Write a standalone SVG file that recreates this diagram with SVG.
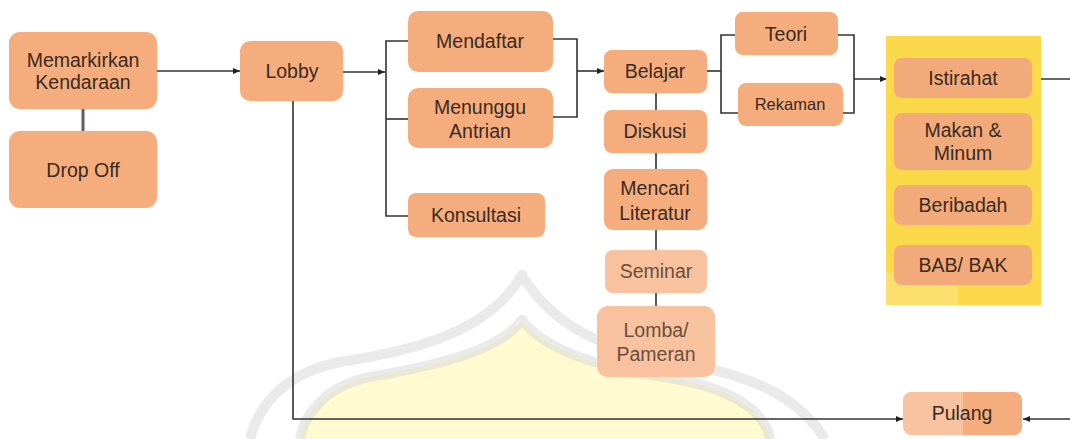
<svg xmlns="http://www.w3.org/2000/svg" width="1070" height="439" viewBox="0 0 1070 439">
<style>
  .n rect { fill: #F5AD7E; }
  .n text, .t { font-family: "Liberation Sans", Arial, sans-serif; font-size: 19.5px; fill: #3a2a20; text-anchor: middle; }
  .lt rect { fill: #F8C29E; }
  .lt text { fill: #6a4e40; }
  .c line, .c path { stroke: #333; stroke-width: 1.6; fill: none; }
  .wm { fill: none; stroke: #d6d6d6; stroke-width: 10; stroke-linejoin: round; opacity: 0.5; }
</style>
<defs>
  <marker id="ah" markerWidth="8" markerHeight="8" refX="7" refY="4" orient="auto" markerUnits="userSpaceOnUse">
    <path d="M0,1 L7,4 L0,7 Z" fill="#222"/>
  </marker>
  <linearGradient id="pg" x1="0" x2="1" y1="0" y2="0">
    <stop offset="0" stop-color="#F8C3A0"/>
    <stop offset="0.5" stop-color="#F8C3A0"/>
    <stop offset="0.5" stop-color="#F5AD7E"/>
    <stop offset="1" stop-color="#F5AD7E"/>
  </linearGradient>
</defs>
<rect width="1070" height="439" fill="#ffffff"/>

<g id="watermark">
  <path d="M300,439 C305,410 330,385 370,377 C440,365 500,350 522,320 C545,350 600,368 670,378 C730,388 765,410 770,439 Z" fill="#FFF9C4" opacity="0.8"/>
  <path class="wm" d="M250,439 C260,400 290,372 340,362 C420,350 490,330 522,275 C555,330 610,352 690,365 C760,378 800,400 825,439"/>
  <path class="wm" d="M300,439 C305,410 330,385 370,377 C440,365 500,350 522,320 C545,350 600,368 670,378 C730,388 765,410 770,439"/>
</g>

<g id="connectors" class="c">
  <line x1="83" y1="109" x2="83" y2="131" style="stroke:#5b5e6b;stroke-width:3"/>
  <line x1="157" y1="71" x2="240" y2="71" marker-end="url(#ah)"/>
  <line x1="333" y1="72" x2="385" y2="72" marker-end="url(#ah)"/>
  <path d="M408,41 H386 V216 H408"/>
  <line x1="386" y1="119" x2="408" y2="119"/>
  <path d="M553,39 H577 V117 H553"/>
  <line x1="577" y1="71" x2="604" y2="71" marker-end="url(#ah)"/>
  <line x1="656" y1="93" x2="656" y2="110"/>
  <line x1="656" y1="153" x2="656" y2="169"/>
  <line x1="656" y1="230" x2="656" y2="250"/>
  <line x1="656" y1="293" x2="656" y2="306"/>
  <line x1="707" y1="71" x2="721" y2="71"/>
  <path d="M735,35 H721 V113 H738"/>
  <path d="M838,35 H854 V113 H843"/>
  <line x1="854" y1="79" x2="887" y2="79" marker-end="url(#ah)"/>
  <line x1="1032" y1="79" x2="1070" y2="79"/>
  <path d="M293,101 V419 H903" marker-end="url(#ah)"/>
  <line x1="1070" y1="419" x2="1023" y2="419" marker-end="url(#ah)"/>
</g>

<g id="n-memarkirkan" class="n"><rect x="9" y="32" width="148" height="77" rx="11"/><text x="83" y="67">Memarkirkan</text><text x="83" y="89">Kendaraan</text></g>
<g id="n-dropoff" class="n"><rect x="9" y="131" width="148" height="77" rx="11"/><text x="83" y="177">Drop Off</text></g>
<g id="n-lobby" class="n"><rect x="240" y="41" width="103" height="60" rx="10"/><text x="292" y="78">Lobby</text></g>
<g id="n-mendaftar" class="n"><rect x="408" y="11" width="145" height="61" rx="10"/><text x="480" y="48">Mendaftar</text></g>
<g id="n-menunggu" class="n"><rect x="408" y="88" width="145" height="60" rx="10"/><text x="480" y="114">Menunggu</text><text x="480" y="138">Antrian</text></g>
<g id="n-konsultasi" class="n"><rect x="408" y="193" width="137" height="44" rx="8"/><text x="476" y="222">Konsultasi</text></g>
<g id="n-belajar" class="n"><rect x="604" y="50" width="103" height="43" rx="8"/><text x="655" y="78">Belajar</text></g>
<g id="n-diskusi" class="n"><rect x="604" y="110" width="103" height="43" rx="8"/><text x="655" y="138">Diskusi</text></g>
<g id="n-mencari" class="n"><rect x="604" y="169" width="103" height="61" rx="9"/><text x="655" y="195">Mencari</text><text x="655" y="220">Literatur</text></g>
<g id="n-seminar" class="n lt"><rect x="605" y="250" width="102" height="43" rx="8"/><text x="656" y="278">Seminar</text></g>
<g id="n-lomba" class="n lt"><rect x="597" y="306" width="118" height="71" rx="11"/><text x="656" y="337">Lomba/</text><text x="656" y="361">Pameran</text></g>
<g id="n-teori" class="n"><rect x="735" y="12" width="103" height="43" rx="8"/><text x="786" y="41">Teori</text></g>
<g id="n-rekaman" class="n"><rect x="738" y="83" width="105" height="43" rx="8"/><text x="790" y="110" style="font-size:16.5px">Rekaman</text></g>

<g id="n-group">
  <rect x="886" y="36" width="155" height="269" fill="#FCD94A"/>
  <rect x="886" y="272" width="72" height="33" fill="#ffffff" opacity="0.2"/>
</g>
<g id="n-istirahat" class="n"><rect x="894" y="58" width="138" height="40" rx="8" style="fill:#F3AA7B"/><text x="963" y="85">Istirahat</text></g>
<g id="n-makan" class="n"><rect x="894" y="113" width="138" height="57" rx="8" style="fill:#F3AA7B"/><text x="963" y="137">Makan &amp;</text><text x="963" y="160">Minum</text></g>
<g id="n-beribadah" class="n"><rect x="894" y="185" width="138" height="40" rx="8" style="fill:#F3AA7B"/><text x="963" y="212">Beribadah</text></g>
<g id="n-bab" class="n"><rect x="894" y="245" width="138" height="40" rx="8" style="fill:#F3AA7B"/><text x="963" y="272">BAB/ BAK</text></g>
<g id="n-pulang" class="n"><rect x="903" y="392" width="119" height="43" rx="8" style="fill:url(#pg)"/><text x="962" y="420">Pulang</text></g>
</svg>
